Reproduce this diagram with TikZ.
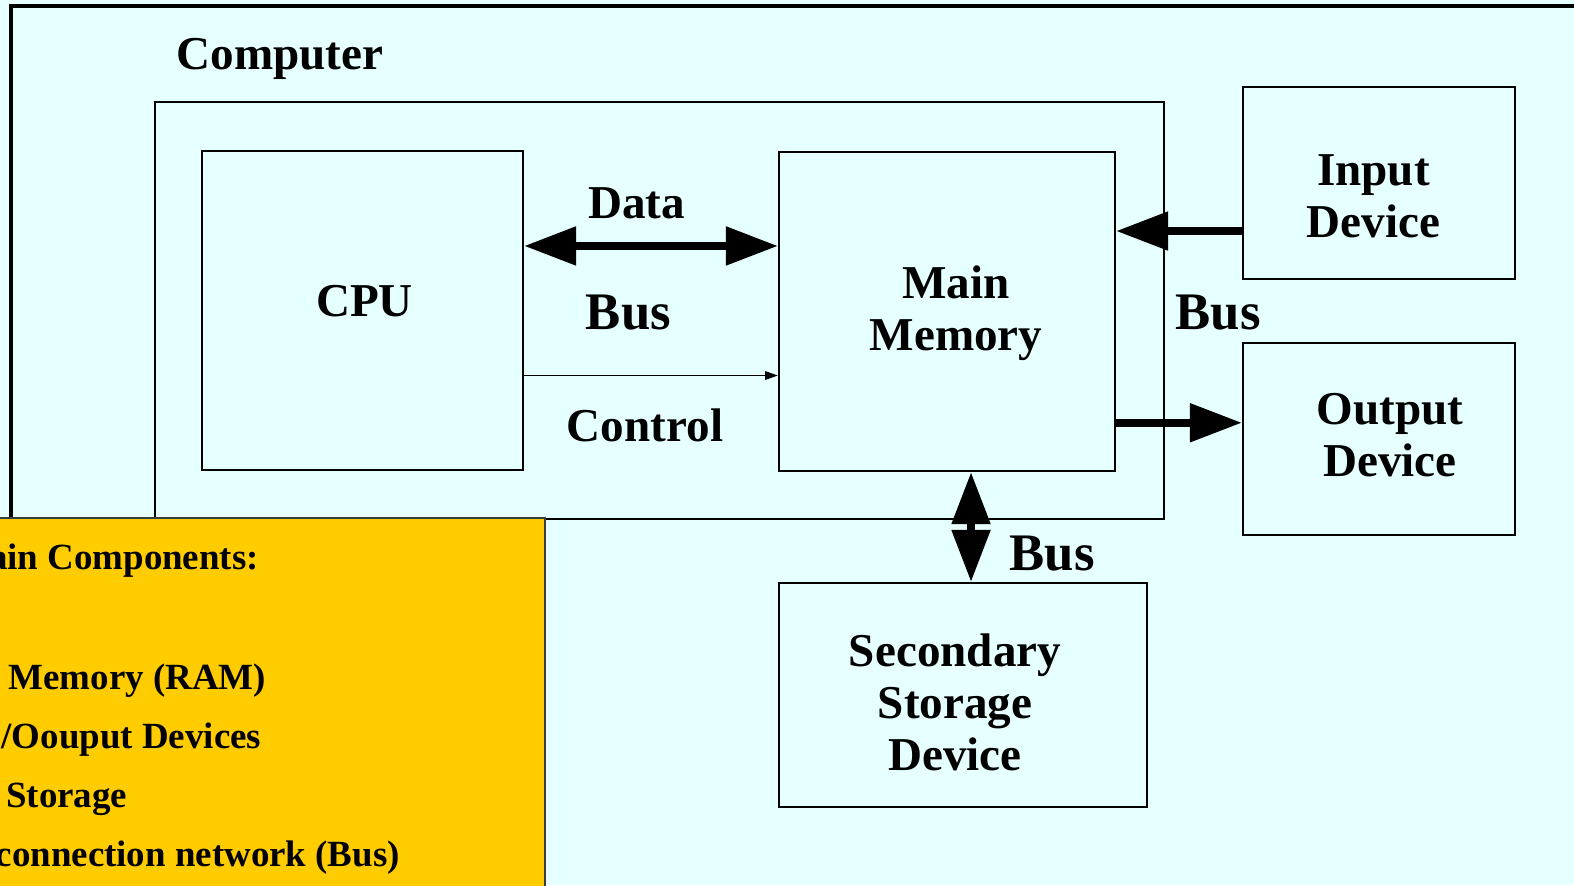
\documentclass[tikz,border=0pt]{standalone}
\usepackage{fontspec}
\setmainfont{Liberation Serif}
\usetikzlibrary{arrows.meta,positioning}
\definecolor{bgcyan}{RGB}{230,255,255}
\definecolor{legendyellow}{RGB}{255,204,0}
\definecolor{legendedge}{RGB}{60,60,60}

\begin{document}
\begin{tikzpicture}[x=0.01cm, y=-0.01cm, >={Triangle[length=14.8pt,width=10.6pt]},
	unit/.style={draw, line width=0.6pt, inner sep=0pt},
	txt/.style={font=\fontsize{13.4}{14.8}\selectfont\bfseries, align=center, inner sep=0pt},
	bustxt/.style={txt, font=\fontsize{15}{16}\selectfont\bfseries},
	legendtxt/.style={font=\fontsize{10.5}{12}\selectfont\bfseries, anchor=base west, inner sep=0pt},
	bus/.style={line width=2.2pt}]
	\useasboundingbox (0,0) rectangle (1574,885);
	\clip (0,0) rectangle (1574,885);
	\fill[bgcyan] (0,0) rectangle (1574,885);
	\draw[line width=1.2pt] (11,6) rectangle (1700,1000);

	% boxes
	\node[unit, minimum width=10.09cm, minimum height=4.17cm] (computer) at (659.5,310.5) {};
	\node[unit, minimum width=3.21cm, minimum height=3.19cm] (cpu) at (362.5,310.5) {};
	\node[unit, minimum width=3.36cm, minimum height=3.19cm] (mainmem) at (947,311.5) {};
	\node[unit, minimum width=2.72cm, minimum height=1.92cm] (indev) at (1379,183) {};
	\node[unit, minimum width=2.72cm, minimum height=1.92cm] (outdev) at (1379,439) {};
	\node[unit, minimum width=3.68cm, minimum height=2.24cm] (storage) at (963,695) {};

	% labels
	\node[txt] (computerlbl) at (280,59) {Computer};
	\node[txt] (cpulbl) at (364.5,301.5) {CPU};
	\node[txt] (mainmemlbl) at (956,313) {Main\\Memory};
	\node[txt] (indevlbl) at (1373.5,196) {Input\\Device};
	\node[txt] (outdevlbl) at (1390,435) {Output\\Device};
	\node[txt] (storagelbl) at (955,702) {Secondary\\Storage\\Device};
	\node[txt] (datalbl) at (636.5,203) {Data};
	\node[bustxt] (buslbl) at (628.5,313) {Bus};
	\node[txt] (controllbl) at (645,425.5) {Control};
	\node[bustxt] (iobuslbl) at (1218,313) {Bus};
	\node[bustxt] (storebuslbl) at (1052,554) {Bus};

	% connectors
	\draw[bus, <->] ([yshift=0.645cm]cpu.east) -- ([yshift=0.645cm]cpu.east -| mainmem.west);
	\draw[line width=0.5pt, -{Triangle[length=3.6pt,width=2.4pt]}]
		([yshift=-0.65cm]cpu.east) -- ([yshift=-0.65cm]cpu.east -| mainmem.west);
	\draw[bus, ->] ([yshift=-0.48cm]indev.west) -- ([yshift=-0.48cm]indev.west -| mainmem.east);
	\draw[bus, ->] ([yshift=-1.112cm]mainmem.east) -- ([yshift=-1.112cm]mainmem.east -| outdev.west);
	\draw[bus, <->] ([xshift=0.24cm]mainmem.south) -- ([xshift=0.24cm]mainmem.south |- storage.north);

	% legend
	\node[fill=legendyellow, draw=legendedge, line width=0.5pt, inner sep=0pt,
		minimum width=5.55cm, minimum height=3.82cm] (legend) at (267.5,709) {};
	\node[legendtxt] (lg1) at (-11.6,569) {ain Components:};
	\node[legendtxt] (lg2) at (8,689) {Memory (RAM)};
	\node[legendtxt] (lg3) at (1,748) {/Oouput Devices};
	\node[legendtxt] (lg4) at (5.5,807) {Storage};
	\node[legendtxt] (lg5) at (-5,866) {connection network (Bus)};
\end{tikzpicture}
\end{document}
